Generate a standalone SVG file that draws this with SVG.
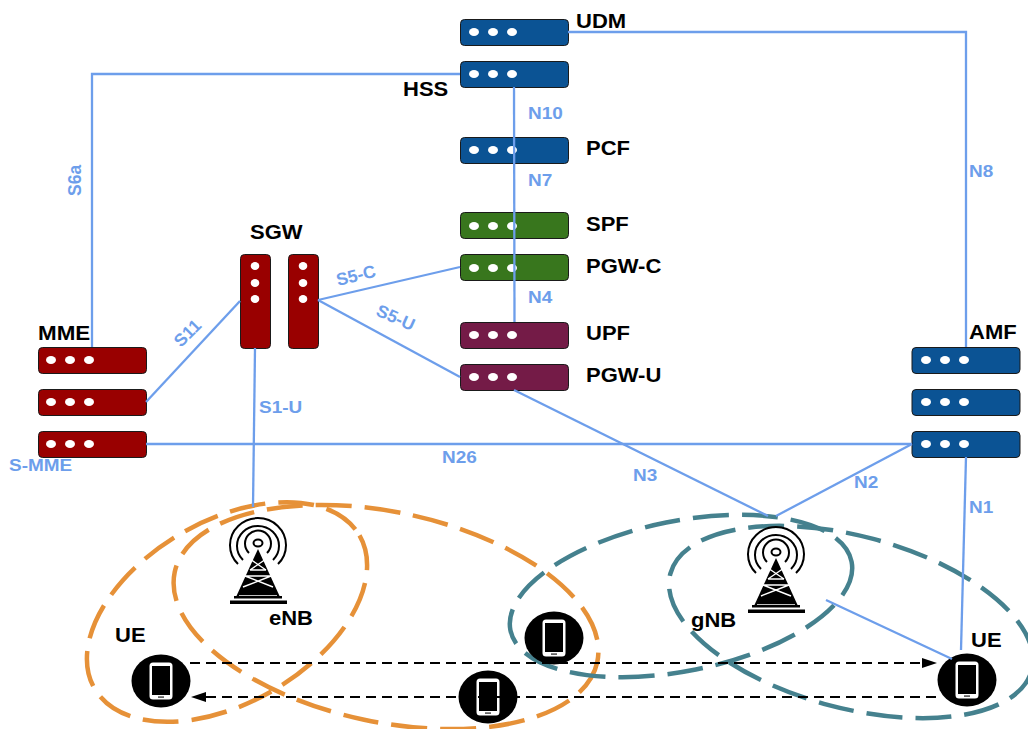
<svg xmlns="http://www.w3.org/2000/svg" xmlns:xlink="http://www.w3.org/1999/xlink" width="1028" height="729" viewBox="0 0 1028 729">
<style>
text{font-family:"Liberation Sans",Arial,sans-serif;font-weight:700}
.n{font-size:20px;fill:#000}
.l{font-size:16.500px;fill:#6d9eeb}
.r{font-size:17.500px;fill:#6d9eeb}
.box{stroke:#1a1a1a;stroke-width:1}
.red{fill:#990000}.blue{fill:#0b5394}.green{fill:#38761d}.plum{fill:#741b47}
.d{fill:#fff}
.c{fill:none;stroke:#6d9eeb;stroke-width:2.300}
.o{fill:none;stroke:#e69138;stroke-width:4.500;stroke-dasharray:36 13}
.t{fill:none;stroke:#45818e;stroke-width:4.500;stroke-dasharray:36 13}
.a{fill:none;stroke:#000;stroke-width:2;stroke-dasharray:10 6}
.arc{fill:none;stroke:#000;stroke-width:2}
</style>
<defs>
<g id="hrack-dots"><ellipse class="d" cx="14" cy="13" rx="5" ry="4"/><ellipse class="d" cx="33" cy="13" rx="5" ry="4"/><ellipse class="d" cx="52" cy="13" rx="5" ry="4"/></g>
<g id="vrack-dots"><ellipse class="d" cx="15" cy="12" rx="4.300" ry="4"/><ellipse class="d" cx="15" cy="29" rx="4.300" ry="4"/><ellipse class="d" cx="15" cy="45" rx="4.300" ry="4"/></g>
<g id="phone"><ellipse cx="0" cy="0" rx="29.500" ry="26.500" fill="#000"/><rect x="-11.500" y="-18.500" width="23" height="37" rx="3.500" fill="#fff"/><rect x="-9" y="-15" width="18" height="29" fill="#000"/><rect x="-3" y="15.300" width="6" height="1.600" fill="#555"/></g>
<g id="tower">
<path class="arc" d="M-20 21A28 27 0 1 1 20 21"/><path class="arc" d="M-15 17A21 20 0 1 1 15 17"/><path class="arc" d="M-9 10A13 13 0 1 1 9 10"/>
<ellipse cx="0" cy="0" rx="4.500" ry="3.500" fill="none" stroke="#000" stroke-width="2"/>
<path d="M0 6L22 54H-22Z" fill="#000"/>
<path d="M-8 16L8 27M8 16L-8 27M-8 27H8M-13 33L15 44M13 33L-15 44M-14 33H14M-19 53H19" fill="none" stroke="#fff" stroke-width="1.400"/>
<rect x="-28" y="57.500" width="57" height="3.500" fill="#000"/><rect x="-24" y="53" width="48" height="2.500" fill="#000"/>
</g>
</defs>

<g id="cells">
<ellipse class="o" cx="227" cy="612" rx="153" ry="91" transform="rotate(-30 227 612)"/>
<ellipse class="o" cx="386" cy="617" rx="216" ry="105" transform="rotate(12 386 617)"/>
<ellipse class="t" cx="681" cy="596" rx="174" ry="75" transform="rotate(-11.400 681 596)"/>
<ellipse class="t" cx="851" cy="622" rx="187" ry="86" transform="rotate(15 851 622)"/>
</g>

<g id="udm"><rect class="box blue" x="460.500" y="19.500" width="108" height="26" rx="4"/><use href="#hrack-dots" x="460" y="19"/><text class="n" transform="translate(576 28) scale(1.100 1)">UDM</text></g>
<g id="hss"><rect class="box blue" x="460.500" y="61.500" width="108" height="26" rx="4"/><use href="#hrack-dots" x="460" y="61"/><text class="n" transform="translate(403 96) scale(1.100 1)">HSS</text></g>
<g id="pcf"><rect class="box blue" x="460.500" y="137.500" width="108" height="26" rx="4"/><use href="#hrack-dots" x="460" y="137"/><text class="n" transform="translate(586 155) scale(1.100 1)">PCF</text></g>
<g id="spf"><rect class="box green" x="460.500" y="212.500" width="108" height="26" rx="4"/><use href="#hrack-dots" x="460" y="213"/><text class="n" transform="translate(586 231) scale(1.100 1)">SPF</text></g>
<g id="pgw-c"><rect class="box green" x="460.500" y="254.500" width="108" height="26" rx="4"/><use href="#hrack-dots" x="460" y="255"/><text class="n" transform="translate(586 273) scale(1.100 1)">PGW-C</text></g>
<g id="upf"><rect class="box plum" x="460.500" y="322.500" width="108" height="26" rx="4"/><use href="#hrack-dots" x="460" y="322"/><text class="n" transform="translate(586 340) scale(1.100 1)">UPF</text></g>
<g id="pgw-u"><rect class="box plum" x="460.500" y="364.500" width="108" height="26" rx="4"/><use href="#hrack-dots" x="460" y="364"/><text class="n" transform="translate(586 382) scale(1.100 1)">PGW-U</text></g>

<g id="mme">
<rect class="box red" x="38.500" y="347.500" width="108" height="26" rx="4"/><use href="#hrack-dots" x="37" y="347"/>
<rect class="box red" x="38.500" y="389.500" width="108" height="26" rx="4"/><use href="#hrack-dots" x="37" y="389"/>
<rect class="box red" x="38.500" y="431.500" width="108" height="26" rx="4"/><use href="#hrack-dots" x="37" y="431"/>
<text class="n" transform="translate(38 340) scale(1.120 1)">MME</text>
</g>
<g id="sgw">
<rect class="box red" x="240.500" y="254.500" width="30" height="94" rx="4"/><use href="#vrack-dots" x="240" y="254"/>
<rect class="box red" x="288.500" y="254.500" width="30" height="94" rx="4"/><use href="#vrack-dots" x="288" y="254"/>
<text class="n" transform="translate(250 239) scale(1.100 1)">SGW</text>
</g>
<g id="amf">
<rect class="box blue" x="912" y="347.500" width="108" height="26" rx="4"/><use href="#hrack-dots" x="912" y="347"/>
<rect class="box blue" x="912" y="389.500" width="108" height="26" rx="4"/><use href="#hrack-dots" x="912" y="389"/>
<rect class="box blue" x="912" y="431.500" width="108" height="26" rx="4"/><use href="#hrack-dots" x="912" y="431"/>
<text class="n" transform="translate(969 339) scale(1.100 1)">AMF</text>
</g>
<g id="enb"><use href="#tower" x="258" y="543"/><text class="n" transform="translate(269 625) scale(1.100 1)">eNB</text></g>
<g id="gnb"><use href="#tower" x="776" y="552"/><text class="n" transform="translate(691 627) scale(1.100 1)">gNB</text></g>
<g id="ue-left"><use href="#phone" x="161" y="681"/><text class="n" transform="translate(115 642) scale(1.100 1)">UE</text></g>
<g id="ue-mid-top"><use href="#phone" x="554" y="638"/></g>
<g id="ue-mid-bottom"><use href="#phone" x="488" y="697"/></g>
<g id="ue-right"><use href="#phone" x="967" y="680"/><text class="n" transform="translate(971 647) scale(1.100 1)">UE</text></g>

<g id="connectors">
<path class="c" d="M460 74H92V347"/>
<path class="c" d="M568 32H966V347"/>
<path class="c" d="M514 87L514.500 322"/>
<path class="c" d="M146 402L240 301"/>
<path class="c" d="M255 348L253 507"/>
<path class="c" d="M318 300L460 267"/>
<path class="c" d="M318 300L460 377"/>
<path class="c" d="M146 444H912"/>
<path class="c" d="M514 390L768 516"/>
<path class="c" d="M912 444L776 516"/>
<path class="c" d="M966 457L961 650"/>
<path class="c" d="M826 600L952 659"/>
<path class="a" d="M190 663H924"/>
<path d="M937 663L922 658V668Z" fill="#000"/>
<path class="a" d="M936 697H204"/>
<path d="M191 697L206 692V702Z" fill="#000"/>
<text class="l" transform="translate(528 119) scale(1.150 1)">N10</text>
<text class="l" transform="translate(528 186) scale(1.150 1)">N7</text>
<text class="l" transform="translate(528 303) scale(1.150 1)">N4</text>
<text class="l" transform="translate(969 177) scale(1.150 1)">N8</text>
<text class="l" transform="translate(9 471) scale(1.150 1)">S-MME</text>
<text class="l" transform="translate(259 413) scale(1.150 1)">S1-U</text>
<text class="l" transform="translate(442 463) scale(1.150 1)">N26</text>
<text class="l" transform="translate(633 481) scale(1.150 1)">N3</text>
<text class="l" transform="translate(854 488) scale(1.150 1)">N2</text>
<text class="l" transform="translate(969 513) scale(1.150 1)">N1</text>
<text class="r" transform="translate(81 196) rotate(-90)">S6a</text>
<text class="r" transform="translate(181 348) rotate(-45)">S11</text>
<text class="r" transform="translate(338 286) rotate(-14)">S5-C</text>
<text class="r" transform="translate(375 315) rotate(24)">S5-U</text>
</g>
</svg>
